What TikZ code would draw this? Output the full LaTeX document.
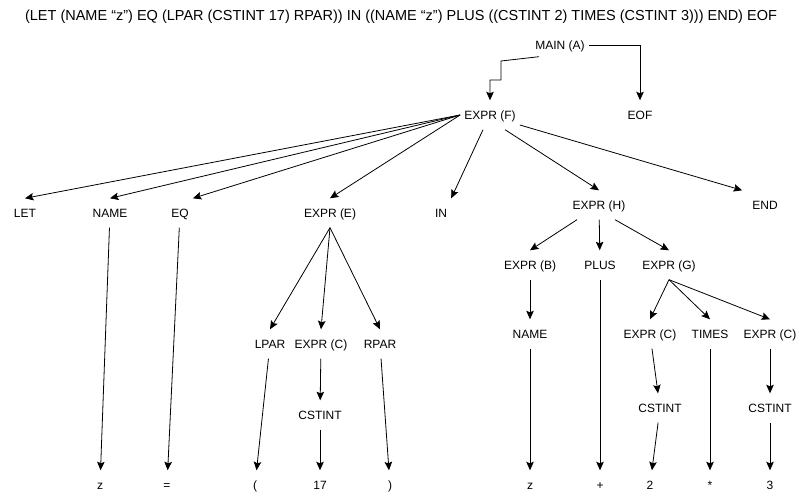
\documentclass[tikz,border=0pt]{standalone}
\usepackage{fontspec}
\setmainfont{Liberation Sans}
\usepackage{tikz}
\usetikzlibrary{arrows.meta,positioning,calc}

\begin{document}
\begin{tikzpicture}[
        x=1pt, y=-1pt,
        tnode/.style={font=\fontsize{12}{14}\selectfont, text height=9pt, text depth=0pt, inner xsep=4pt, inner ysep=10pt},
        arr/.style={-{Stealth[length=8.5pt, width=7.5pt, inset=1.5pt]}, line width=0.8pt, draw=black}
    ]
        \useasboundingbox (0,0) rectangle (802,502);

        % Title
        \node[font=\fontsize{14.5}{16}\selectfont, inner sep=0pt] (title) at (401,17) {(LET (NAME “z”) EQ (LPAR (CSTINT 17) RPAR)) IN ((NAME “z”) PLUS ((CSTINT 2) TIMES (CSTINT 3))) END) EOF};

        % Nodes
        \node[tnode] (main) at (560,45) {MAIN (A)};
        \node[tnode] (eof) at (640,115) {EOF};
        \node[tnode] (exprF) at (490,115) {EXPR (F)};

        \node[tnode] (let) at (25,213) {LET};
        \node[tnode] (name) at (110,213) {NAME};
        \node[tnode] (eq) at (180,213) {EQ};
        \node[tnode] (exprE) at (330,213) {EXPR (E)};
        \node[tnode] (kwIn) at (441,213) {IN};
        \node[tnode] (exprH) at (599,205) {EXPR (H)};
        \node[tnode] (kwEnd) at (765,205) {END};

        \node[tnode] (lpar) at (270,344) {LPAR};
        \node[tnode] (exprCa) at (321,344) {EXPR (C)};
        \node[tnode] (rpar) at (380,344) {RPAR};
        \node[tnode] (cstintA) at (320,415) {CSTINT};

        \node[tnode] (exprB) at (530,265) {EXPR (B)};
        \node[tnode] (plus) at (600,265) {PLUS};
        \node[tnode] (exprG) at (669,265) {EXPR (G)};
        \node[tnode] (nameB) at (530,334) {NAME};
        \node[tnode] (exprCb) at (650,334) {EXPR (C)};
        \node[tnode] (times) at (710,334) {TIMES};
        \node[tnode] (exprCc) at (770,334) {EXPR (C)};
        \node[tnode] (cstintB) at (660,408) {CSTINT};
        \node[tnode] (cstintC) at (770,408) {CSTINT};

        % Tokens
        \node[tnode] (tokZa) at (100,485) {z};
        \node[tnode] (tokEq) at (167,485) {=};
        \node[tnode] (tokLpar) at (255,485) {(};
        \node[tnode] (tok17) at (320,485) {17};
        \node[tnode] (tokRpar) at (390,485) {)};
        \node[tnode] (tokZb) at (530,485) {z};
        \node[tnode] (tokPlus) at (600,485) {+};
        \node[tnode] (tokTwo) at (650,485) {2};
        \node[tnode] (tokTimes) at (710,485) {*};
        \node[tnode] (tokThree) at (770,485) {3};

        % Edges
        \draw[arr] (main.east) -| (eof);
        \draw[arr] ($(main.south)+(-21,-3)$) -- (501,61) -- (501,80) -| (exprF);

        \draw[arr] (exprF.west) -- (let.north);
        \draw[arr] (exprF.west) -- (name.north);
        \draw[arr] (exprF.west) -- (eq.north east);
        \draw[arr] (exprF.west) -- (exprE.north);
        \draw[arr] ([xshift=-7pt]exprF.south) -- (kwIn.north east);
        \draw[arr] ([xshift=15pt]exprF.south) -- (exprH.north);
        \draw[arr] ([yshift=-10pt]exprF.east) -- ([xshift=-6pt]kwEnd.north west);

        \draw[arr] (name) -- (tokZa);
        \draw[arr] (eq) -- (tokEq);

        \draw[arr] (exprE.south) -- (lpar.north);
        \draw[arr] (exprE.south) -- (exprCa.north);
        \draw[arr] (exprE.south) -- (rpar.north);
        \draw[arr] (lpar) -- (tokLpar);
        \draw[arr] (exprCa) -- (cstintA);
        \draw[arr] (cstintA) -- (tok17);
        \draw[arr] (rpar) -- (tokRpar);

        \draw[arr] ([xshift=-22pt]exprH.south) -- (exprB.north);
        \draw[arr] (exprH) -- (plus);
        \draw[arr] ([xshift=16pt]exprH.south) -- (exprG.north);
        \draw[arr] (exprB) -- (nameB);
        \draw[arr] (nameB) -- (tokZb);
        \draw[arr] (plus) -- (tokPlus);

        \draw[arr] (exprG.south) -- (exprCb.north);
        \draw[arr] (exprG.south) -- (times.north);
        \draw[arr] (exprG.south) -- (exprCc.north);
        \draw[arr] (exprCb) -- (cstintB);
        \draw[arr] (cstintB) -- (tokTwo);
        \draw[arr] (times) -- (tokTimes);
        \draw[arr] (exprCc) -- (cstintC);
        \draw[arr] (cstintC) -- (tokThree);
    \end{tikzpicture}
\end{document}
